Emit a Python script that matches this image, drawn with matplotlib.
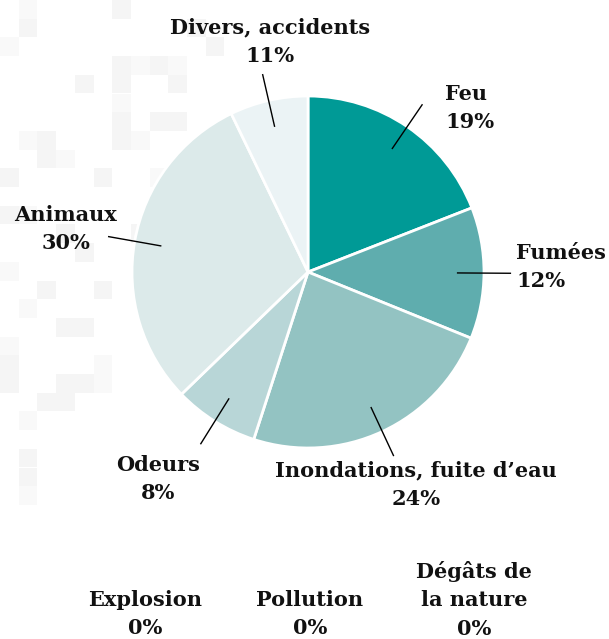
import numpy as np
import matplotlib
matplotlib.use("Agg")
import matplotlib.pyplot as plt

categories = ["Feu", "Fumées", "Inondations, fuite d’eau", "Odeurs", "Animaux", "Divers, accidents"]
shares = [19.1, 12.1, 23.9, 7.8, 30.1, 7.2]
pct_labels = ["19%", "12%", "24%", "8%", "30%", "11%"]
colors = ["#009a96", "#5fadae", "#93c3c2", "#b8d6d7", "#dceaea", "#ebf3f5"]

# causes a 0 %, listees sous le graphique
zero_categories = ["Explosion", "Pollution", "Dégâts de\nla nature"]
zero_pct = ["0%", "0%", "0%"]

W, H = 609, 639
fig = plt.figure(figsize=(W / 100, H / 100), dpi=100)
ax = fig.add_axes([0, 0, 1, 1])

# motif de fond (carres gris tres pales)
cell = 18.7
bg_cells = [
    (1, 0), (1, 1), (6, 0), (0, 2), (4, 4), (6, 3), (7, 3), (8, 3), (6, 4), (6, 5), (6, 6),
    (6, 7), (7, 7), (8, 6), (9, 6), (9, 3), (9, 4), (5, 9), (1, 7), (2, 7), (2, 8), (3, 8),
    (0, 9), (0, 11), (1, 11), (3, 12), (4, 13), (0, 14), (2, 15), (5, 15), (1, 16),
    (3, 17), (4, 17), (0, 18), (0, 19), (0, 20), (5, 19), (3, 20), (4, 20), (5, 20),
    (2, 21), (3, 21), (1, 22), (1, 24), (1, 25), (1, 26), (10, 1), (11, 2), (8, 9), (7, 12),
]
for i, (cx, cy) in enumerate(bg_cells):
    shade = "#f5f5f5" if i % 3 else "#f9f9f9"
    ax.add_patch(plt.Rectangle((cx * cell, cy * cell), cell, cell, facecolor=shade,
                               edgecolor="none", zorder=0))

center = (308, 272)
radius = 176
wedges, _ = ax.pie(shares, colors=colors, startangle=-90, counterclock=True,
                   center=center, radius=radius,
                   wedgeprops=dict(edgecolor="white", linewidth=2))
for w in wedges:
    w.set_zorder(2)

ax.set_xlim(0, W)
ax.set_ylim(H, 0)
ax.set_aspect("equal")
ax.axis("off")

font = dict(family="DejaVu Serif", fontweight="bold", fontsize=15, color="#111111",
            linespacing=1.55, zorder=5)

# position du texte (pixels) et alignement
label_pos = [(445, 108, "left"), (516, 267, "left"), (416, 485, "center"),
             (158, 479, "center"), (66, 229, "center"), (270, 42, "center")]

for w, name, pct, (tx, ty, ha) in zip(wedges, categories, pct_labels, label_pos):
    mid = np.deg2rad((w.theta1 + w.theta2) / 2)
    x0 = center[0] + 0.85 * radius * np.cos(mid)
    y0 = center[1] + 0.85 * radius * np.sin(mid)
    x1 = center[0] + 1.15 * radius * np.cos(mid)
    y1 = center[1] + 1.15 * radius * np.sin(mid)
    ax.plot([x0, x1], [y0, y1], color="black", lw=1, zorder=4)
    ax.text(tx, ty, f"{name}\n{pct}", ha=ha, va="center", **font)

zero_x = [145, 310, 474]
for x, name, pct in zip(zero_x, zero_categories, zero_pct):
    ax.text(x, 614 if "\n" not in name else 600, f"{name}\n{pct}", ha="center",
            va="center", **font)

fig.savefig("out.png", dpi=100, facecolor="white")
